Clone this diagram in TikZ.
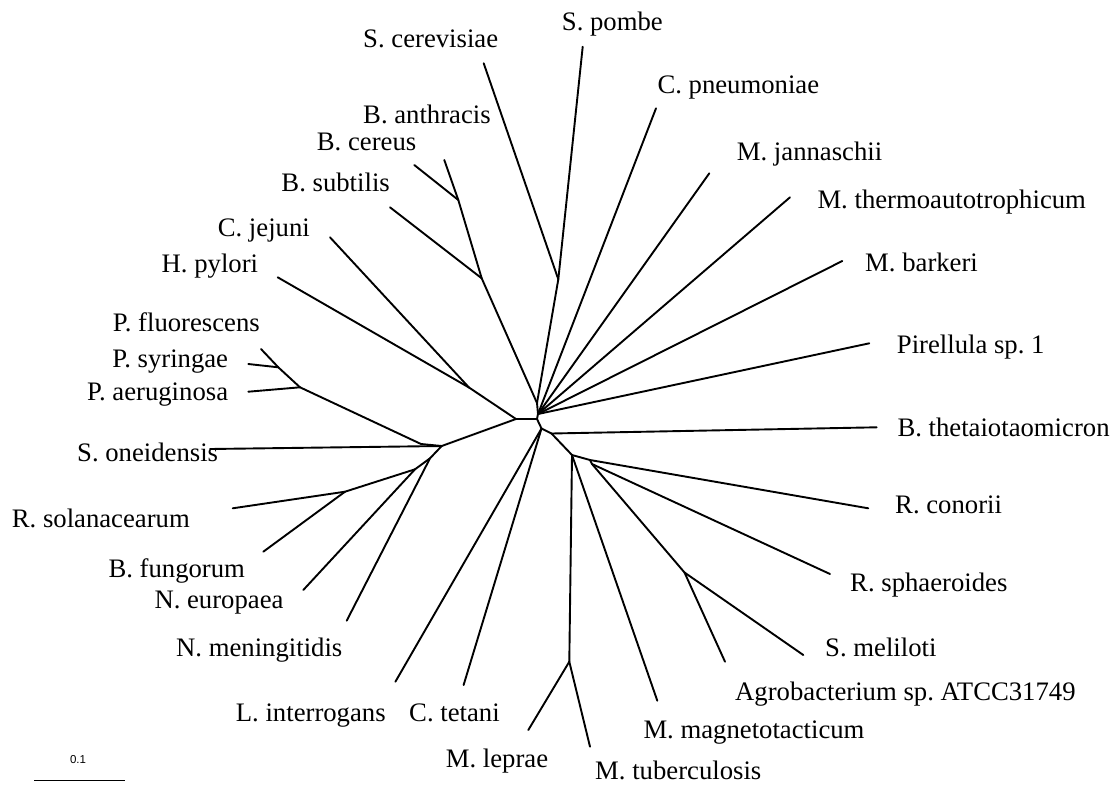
\documentclass[tikz,border=0pt]{standalone}
\usepackage{fontspec}
\setmainfont{Liberation Serif}
\setsansfont{Liberation Sans}
\frenchspacing
\begin{document}
\begin{tikzpicture}[x=1pt,y=-1pt,
  br/.style={line width=1.9pt, line cap=round, line join=round},
  lab/.style={inner sep=0pt, font=\fontsize{26.7}{30}\selectfont}]
\useasboundingbox (0,0) rectangle (1113,785);
% inner nodes
\coordinate (A) at (516,419);
\coordinate (B) at (537,419);
\coordinate (C) at (537,403);
\coordinate (F) at (538,414);
\coordinate (J) at (541.5,428.5);
\coordinate (P1) at (551.5,433.5);
\coordinate (N1) at (572,455);
\coordinate (N2) at (590,460);
\coordinate (N3) at (592,464);
\coordinate (N4) at (684.5,572.5);
\coordinate (MT) at (569.3,661.7);
\coordinate (Y) at (558.3,279.3);
\coordinate (BS) at (481.7,278.3);
\coordinate (BA) at (458.3,200);
\coordinate (EP) at (469,387.5);
\coordinate (D) at (441.7,446);
\coordinate (Dj) at (421,444);
\coordinate (PA) at (300,387.3);
\coordinate (PS) at (278.3,367.3);
\coordinate (G) at (430,458.3);
\coordinate (H) at (415,469.3);
\coordinate (I) at (345,491.7);
% leaves
\coordinate (tScer) at (483.7,63.3);
\coordinate (tSpom) at (582.7,46.7);
\coordinate (tBant) at (444.3,160);
\coordinate (tBcer) at (414.3,165);
\coordinate (tBsub) at (390,207.3);
\coordinate (tCjej) at (330,237.3);
\coordinate (tHpyl) at (277.7,277.3);
\coordinate (tPflu) at (261,349);
\coordinate (tPsyr) at (248.3,364);
\coordinate (tPaer) at (248.3,391.7);
\coordinate (tSone) at (210,449);
\coordinate (tRsol) at (232.7,508.3);
\coordinate (tBfun) at (263.3,551.7);
\coordinate (tNeur) at (303.3,590);
\coordinate (tNmen) at (346.7,620.7);
\coordinate (tLint) at (395.4,681.7);
\coordinate (tCtet) at (463.6,685);
\coordinate (tMlep) at (528.3,730);
\coordinate (tMtub) at (590,746.7);
\coordinate (tMmag) at (657.3,700.7);
\coordinate (tAgro) at (725,661.7);
\coordinate (tSmel) at (803.3,655);
\coordinate (tRsph) at (830,574);
\coordinate (tRcon) at (868.3,508.3);
\coordinate (tBthe) at (876.7,427.3);
\coordinate (tPire) at (869.3,343.3);
\coordinate (tMbar) at (842.3,261);
\coordinate (tMthe) at (790,197.3);
\coordinate (tMjan) at (709.3,173.3);
\coordinate (tCpne) at (656,108.3);
% branches
\draw[br] (C) -- (F) -- (B) -- (J);
\draw[br] (A) -- (B);
\draw[br] (A) -- (EP);
\draw[br] (A) -- (D);
\draw[br] (EP) -- (tHpyl);
\draw[br] (EP) -- (tCjej);
\draw[br] (C) -- (BS);
\draw[br] (C) -- (Y);
\draw[br] (Y) -- (tScer);
\draw[br] (Y) -- (tSpom);
\draw[br] (BS) -- (BA);
\draw[br] (BS) -- (tBsub);
\draw[br] (BA) -- (tBant);
\draw[br] (BA) -- (tBcer);
\draw[br] (F) -- (tCpne);
\draw[br] (F) -- (tMjan);
\draw[br] (F) -- (tMthe);
\draw[br] (F) -- (tMbar);
\draw[br] (F) -- (tPire);
\draw[br] (J) -- (P1);
\draw[br] (J) -- (tLint);
\draw[br] (J) -- (tCtet);
\draw[br] (P1) -- (tBthe);
\draw[br] (P1) -- (N1);
\draw[br] (N1) -- (MT);
\draw[br] (N1) -- (tMmag);
\draw[br] (N1) -- (N2);
\draw[br] (N2) -- (tRcon);
\draw[br] (N2) -- (N3);
\draw[br] (N3) -- (tRsph);
\draw[br] (N3) -- (N4);
\draw[br] (N4) -- (tSmel);
\draw[br] (N4) -- (tAgro);
\draw[br] (MT) -- (tMlep);
\draw[br] (MT) -- (tMtub);
\draw[br] (D) -- (tSone);
\draw[br] (D) -- (Dj) -- (PA);
\draw[br] (D) -- (G);
\draw[br] (PA) -- (PS);
\draw[br] (PA) -- (tPaer);
\draw[br] (PS) -- (tPflu);
\draw[br] (PS) -- (tPsyr);
\draw[br] (G) -- (H);
\draw[br] (G) -- (tNmen);
\draw[br] (H) -- (I);
\draw[br] (H) -- (tNeur);
\draw[br] (I) -- (tRsol);
\draw[br] (I) -- (tBfun);
% labels
\node[lab, anchor=base west] (lScer) at (363,47) {S. cerevisiae};
\node[lab, anchor=base west] (lSpom) at (561.7,30) {S. pombe};
\node[lab, anchor=base west] (lBant) at (363,123) {B. anthracis};
\node[lab, anchor=base west] (lBcer) at (316.7,150) {B. cereus};
\node[lab, anchor=base east] (lBsub) at (390,191.5) {B. subtilis};
\node[lab, anchor=base east] (lCjej) at (310,236) {C. jejuni};
\node[lab, anchor=base east] (lHpyl) at (258.3,272) {H. pylori};
\node[lab, anchor=base east] (lPflu) at (260,331.7) {P. fluorescens};
\node[lab, anchor=base east] (lPsyr) at (228.3,367) {P. syringae};
\node[lab, anchor=base east] (lPaer) at (228.3,400) {P. aeruginosa};
\node[lab, anchor=base east] (lSone) at (218.3,461.7) {S. oneidensis};
\node[lab, anchor=base east] (lRsol) at (190,527.3) {R. solanacearum};
\node[lab, anchor=base west] (lBfun) at (108.3,577) {B. fungorum};
\node[lab, anchor=base west] (lNeur) at (154.3,608) {N. europaea};
\node[lab, anchor=base west] (lNmen) at (176,656.7) {N. meningitidis};
\node[lab, anchor=base west] (lLint) at (235.7,721.7) {L. interrogans};
\node[lab, anchor=base west] (lCtet) at (409,721.7) {C. tetani};
\node[lab, anchor=base east] (lMlep) at (548.3,767) {M. leprae};
\node[lab, anchor=base west] (lMtub) at (595,779) {M. tuberculosis};
\node[lab, anchor=base west] (lMmag) at (643.3,738.3) {M. magnetotacticum};
\node[lab, anchor=base west] (lAgro) at (735,700) {Agrobacterium sp. ATCC31749};
\node[lab, anchor=base west] (lSmel) at (825,656.7) {S. meliloti};
\node[lab, anchor=base west] (lRsph) at (850,591.7) {R. sphaeroides};
\node[lab, anchor=base west] (lRcon) at (895,513.3) {R. conorii};
\node[lab, anchor=base west] (lBthe) at (897.3,436.7) {B. thetaiotaomicron};
\node[lab, anchor=base west] (lPire) at (896.7,353.3) {Pirellula sp. 1};
\node[lab, anchor=base west] (lMbar) at (865,271.7) {M. barkeri};
\node[lab, anchor=base west] (lMthe) at (817.3,208.3) {M. thermoautotrophicum};
\node[lab, anchor=base west] (lMjan) at (736.7,160) {M. jannaschii};
\node[lab, anchor=base west] (lCpne) at (657.3,93.3) {C. pneumoniae};
% scale bar
\coordinate (sbL) at (34,780.7);
\coordinate (sbR) at (125,780.7);
\draw[line width=1.5pt] (sbL) -- (sbR);
\node[inner sep=0pt, font=\sffamily\fontsize{11.5}{13}\selectfont] (sbT) at (78,760) {0.1};
\end{tikzpicture}
\end{document}
